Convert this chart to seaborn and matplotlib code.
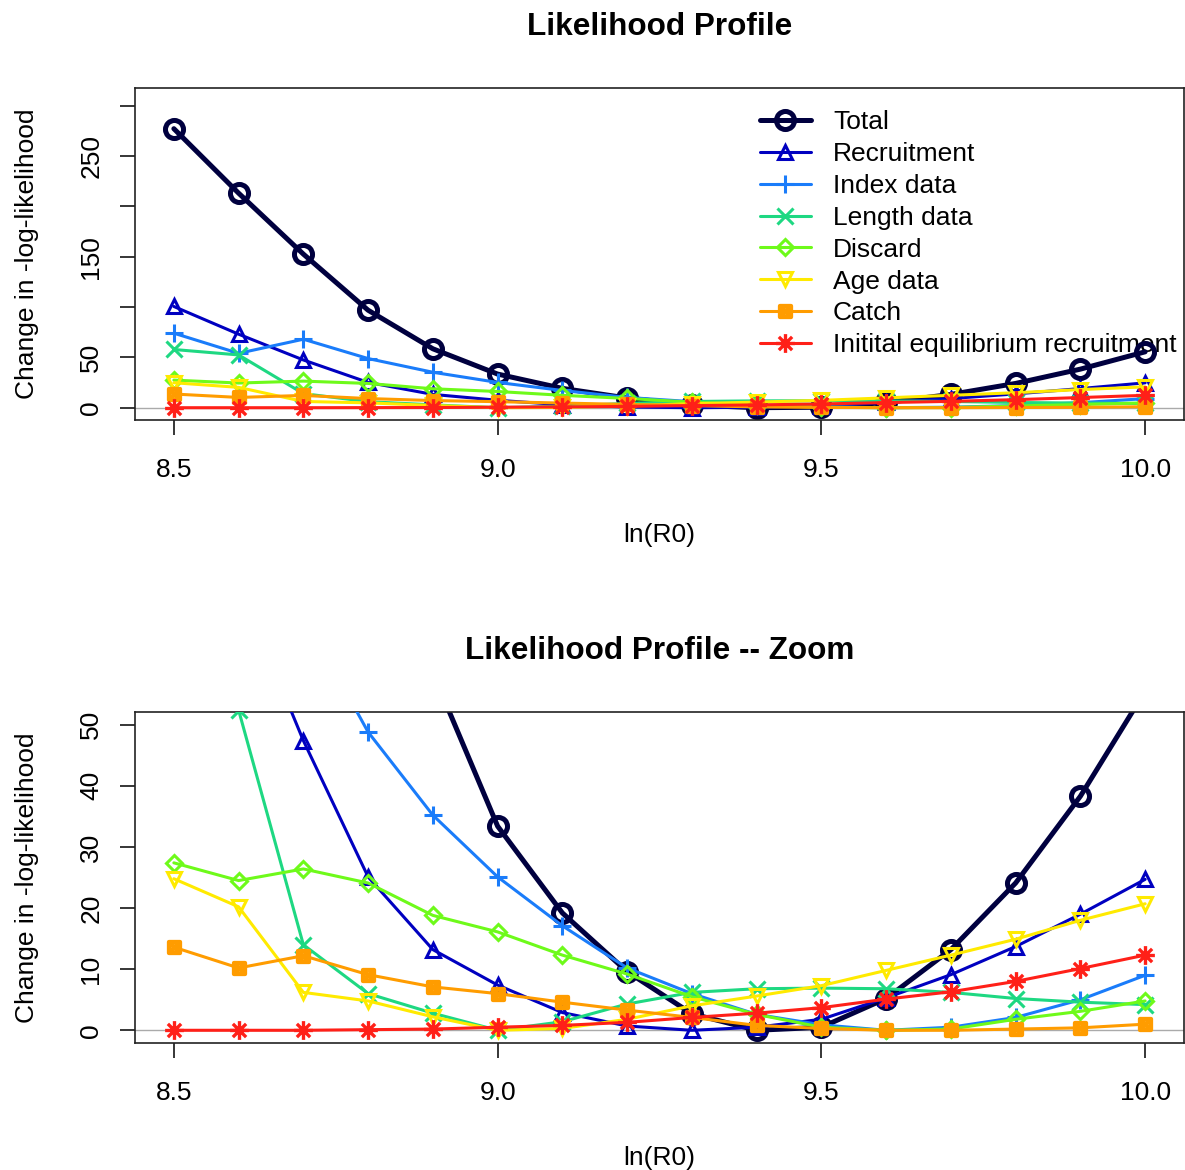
import numpy as np
import pandas as pd
import matplotlib
matplotlib.use("Agg")
import matplotlib.pyplot as plt
from matplotlib.path import Path
import seaborn as sns

# ---------------- data ----------------
ln_r0 = [8.5, 8.6, 8.7, 8.8, 8.9, 9.0, 9.1, 9.2, 9.3, 9.4, 9.5, 9.6, 9.7, 9.8, 9.9, 10.0]
total = [277.0, 213.0, 152.5, 96.8, 58.5, 33.4, 19.2, 9.6, 2.7, 0.0, 0.5, 5.2, 13.2, 24.1, 38.3, 55.5]
recruitment = [100.5, 73.0, 47.4, 25.1, 13.2, 7.4, 2.9, 0.7, 0.0, 0.5, 1.8, 5.3, 9.1, 13.7, 19.0, 24.7]
index_data = [74.0, 54.0, 68.0, 48.8, 35.2, 25.1, 17.1, 10.2, 6.0, 2.6, 0.9, 0.0, 0.5, 2.1, 5.0, 9.0]
length_data = [57.8, 52.4, 14.0, 6.0, 2.8, 0.0, 1.4, 4.3, 6.2, 6.8, 6.9, 6.8, 6.2, 5.2, 4.6, 4.2]
discard = [27.4, 24.5, 26.4, 24.1, 18.8, 16.1, 12.3, 9.2, 5.5, 2.6, 0.5, 0.0, 0.2, 1.8, 3.1, 4.8]
age_data = [24.8, 20.2, 6.2, 4.8, 2.2, 0.0, 0.3, 1.8, 4.0, 5.6, 7.3, 9.8, 12.3, 14.9, 18.0, 20.7]
catch = [13.6, 10.2, 12.2, 9.1, 7.1, 6.0, 4.6, 3.3, 2.1, 0.8, 0.3, 0.0, 0.0, 0.2, 0.4, 1.0]
init_eq_rec = [0.0, 0.0, 0.0, 0.1, 0.2, 0.5, 0.8, 1.3, 2.1, 2.8, 3.7, 5.1, 6.3, 8.0, 10.1, 12.3]

series_names = ["Total", "Recruitment", "Index data", "Length data", "Discard",
                "Age data", "Catch", "Initital equilibrium recruitment"]
series_values = [total, recruitment, index_data, length_data, discard,
                 age_data, catch, init_eq_rec]
series_colors = ["#00003F", "#0000C0", "#1A7CFA", "#1ED882", "#6EFA1A",
                 "#FFEA00", "#FF9C00", "#FF2018"]

x_ticks = [8.5, 9.0, 9.5, 10.0]
x_tick_labels = ["8.5", "9.0", "9.5", "10.0"]
top_y_ticks = [0, 50, 100, 150, 200, 250, 300]
top_y_tick_labels = ["0", "50", "", "150", "", "250", ""]
zoom_y_ticks = [0, 10, 20, 30, 40, 50]
zoom_y_tick_labels = ["0", "10", "20", "30", "40", "50"]

# ---------------- style ----------------
sns.set_theme(style="white")
plt.rcParams["font.family"] = ["Liberation Sans", "DejaVu Sans"]
plt.rcParams["text.color"] = "black"
plt.rcParams["axes.labelcolor"] = "black"
plt.rcParams["xtick.color"] = "black"
plt.rcParams["ytick.color"] = "black"

M, L, C = Path.MOVETO, Path.LINETO, Path.CLOSEPOLY
box_x = Path([(-1, -1), (1, -1), (1, 1), (-1, 1), (-1, -1), (-1, -1), (1, 1), (-1, 1), (1, -1)],
             [M, L, L, L, C, M, L, M, L])
d = 0.7071
asterisk = Path([(-1, 0), (1, 0), (0, -1), (0, 1), (-d, -d), (d, d), (-d, d), (d, -d)],
                [M, L, M, L, M, L, M, L])

markers = ["o", "^", "+", "x", "D", "v", box_x, asterisk]
msizes = [13, 10, 12.5, 11, 8.5, 10, 8.0, 13.5]
lws = [3.6] + [2.2] * 7
mews = [3.6, 2.2, 2.2, 2.2, 2.2, 2.2, 3.0, 2.4]

FS = 19
TITLE_FS = 22.7

df = pd.DataFrame({"ln_r0": np.repeat([ln_r0], len(series_names), axis=0).ravel(),
                   "value": np.concatenate(series_values),
                   "component": np.repeat(series_names, len(ln_r0))})

fig = plt.figure(figsize=(11.85, 11.7), dpi=100)
W, H = 1185.0, 1170.0
ax_top = fig.add_axes([135 / W, 1 - 420 / H, 1049 / W, 332 / H])
ax_zoom = fig.add_axes([135 / W, 1 - 1043 / H, 1049 / W, 331 / H])


def draw(ax, ylim, yticks, yticklabels, title):
    ax.axhline(0, color="#AAAAAA", lw=1.0, zorder=0.5)
    for i, name in enumerate(series_names):
        sub = df[df["component"] == name]
        sns.lineplot(data=sub, x="ln_r0", y="value", ax=ax, color=series_colors[i],
                     marker=markers[i], markersize=msizes[i], mec=series_colors[i],
                     mfc="none", mew=mews[i], lw=lws[i], errorbar=None,
                     legend=False, zorder=2 + i)
    ax.set_xlim(8.44, 10.06)
    ax.set_ylim(*ylim)
    ax.set_xticks(x_ticks)
    ax.set_xticklabels(x_tick_labels, fontsize=FS)
    ax.set_yticks(yticks)
    ax.set_yticklabels(yticklabels, fontsize=FS, rotation=90, va="center")
    ax.tick_params(axis="both", direction="out", length=10.8, width=1.1,
                   color="black", left=True, bottom=True, top=False, right=False)
    ax.tick_params(axis="x", pad=16.5)
    ax.tick_params(axis="y", pad=12)
    for s in ax.spines.values():
        s.set_color("#222222")
        s.set_linewidth(1.2)
    ax.set_xlabel("ln(R0)", fontsize=FS, labelpad=29.5)
    ax.set_ylabel("Change in -log-likelihood", fontsize=FS, labelpad=29)
    ax.set_title(title, fontsize=TITLE_FS, fontweight="bold", pad=38)
    ax.grid(False)


draw(ax_top, (-12.2, 317.4), top_y_ticks, top_y_tick_labels, "Likelihood Profile")
draw(ax_zoom, (-2.08, 52.08), zoom_y_ticks, zoom_y_tick_labels, "Likelihood Profile -- Zoom")

handles = [ln for ln in ax_top.get_lines() if ln.get_marker() not in ("None", None, "")][:8]
leg = ax_top.legend(handles, series_names, loc="upper left",
                    bbox_to_anchor=(760 / W, 1 - 110 / H), bbox_transform=fig.transFigure,
                    frameon=False, fontsize=FS, numpoints=1, handlelength=1.92,
                    handletextpad=0.85, labelspacing=0.3, borderpad=0, borderaxespad=0)
leg.set_zorder(1)

fig.savefig("out.png", dpi=100)
